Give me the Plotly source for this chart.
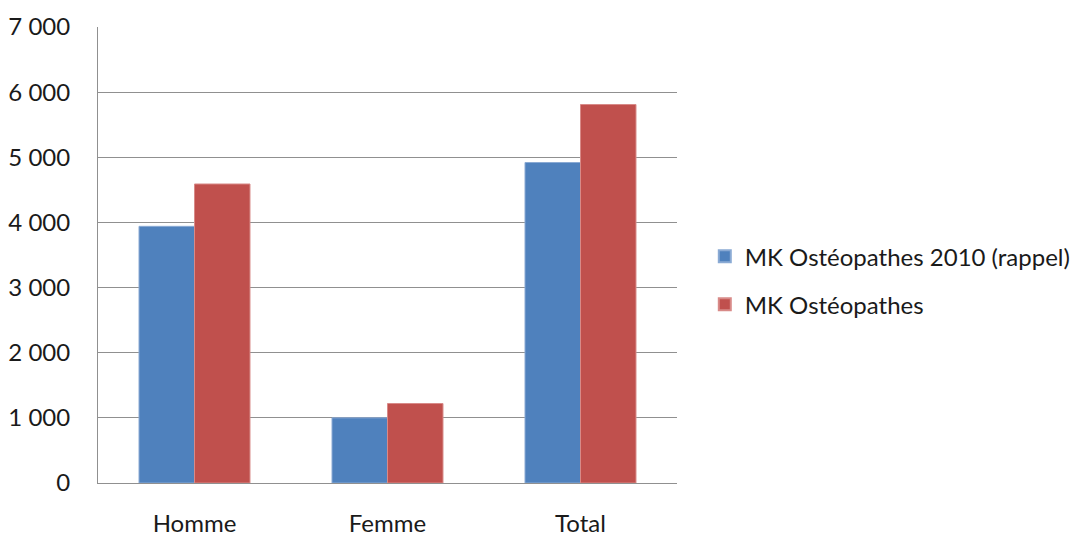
import plotly.graph_objects as go

categories = ["Homme", "Femme", "Total"]
series_2010 = [3940, 1000, 4920]
series_now = [4590, 1220, 5810]
series_names = ["MK Ostéopathes 2010 (rappel)", "MK Ostéopathes"]

FONT = "Lato"

fig = go.Figure()
fig.add_trace(go.Bar(x=categories, y=series_2010, name=series_names[0], legendgroup="a",
                     marker=dict(color="#4F81BD", line=dict(color="#8aaad4", width=1))))
fig.add_trace(go.Bar(x=categories, y=series_now, name=series_names[1], legendgroup="b",
                     marker=dict(color="#C0504D", line=dict(color="#d88a88", width=1))))

fig.update_layout(
    width=1080, height=535,
    margin=dict(l=90, r=404, t=19, b=60),
    paper_bgcolor="white", plot_bgcolor="white",
    separators=", ",
    barmode="group", bargap=0.425, bargroupgap=0,
    font=dict(family=FONT, size=24, color="#1a1a1a"),
    showlegend=True,
    legend=dict(x=1.048, y=0.444, xanchor="left", yanchor="middle",
                font=dict(family=FONT, size=24, color="#1a1a1a"),
                tracegroupgap=14, itemsizing="constant", traceorder="grouped"),
)
fig.update_xaxes(showline=True, linecolor="#909090", linewidth=1, automargin=False,
                 ticks="", ticklabelstandoff=19, showgrid=False)
fig.update_yaxes(range=[0, 7000], dtick=1000, tick0=0, separatethousands=True,
                 showgrid=True, gridcolor="#909090", gridwidth=1, automargin=False,
                 showline=True, linecolor="#909090", linewidth=1,
                 zeroline=False, ticks="", ticklabelstandoff=22)

fig.write_html("out.html")
